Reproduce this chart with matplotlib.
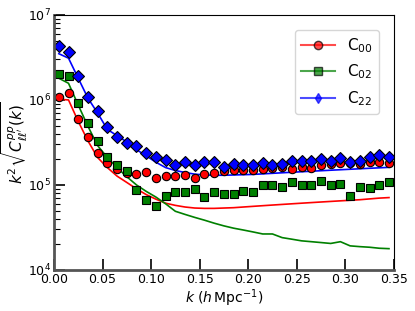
import matplotlib
matplotlib.use("Agg")
import matplotlib.pyplot as plt
from matplotlib.lines import Line2D
import numpy as np

# k bins (h/Mpc)
k = np.arange(0.005, 0.35, 0.01)

# measured points
c00_pts = [1.09e6, 1.2e6, 6.0e5, 3.67e5, 2.4e5, 1.80e5, 1.56e5, 1.40e5, 1.34e5, 1.43e5,
           1.20e5, 1.28e5, 1.28e5, 1.31e5, 1.22e5, 1.34e5, 1.40e5, 1.45e5, 1.48e5, 1.50e5,
           1.50e5, 1.56e5, 1.57e5, 1.61e5, 1.54e5, 1.64e5, 1.60e5, 1.71e5, 1.76e5, 1.80e5,
           1.80e5, 1.76e5, 1.85e5, 1.85e5, 1.83e5]
c02_pts = [2.04e6, 1.91e6, 9.3e5, 5.3e5, 3.3e5, 2.13e5, 1.73e5, 1.47e5, 8.8e4, 6.7e4,
           5.6e4, 7.4e4, 8.2e4, 8.3e4, 8.9e4, 7.3e4, 8.3e4, 7.8e4, 7.8e4, 8.5e4,
           8.2e4, 1.01e5, 1.0e5, 9.4e4, 1.08e5, 1.01e5, 1.0e5, 1.12e5, 1.01e5, 1.03e5,
           7.4e4, 9.5e4, 9.2e4, 1.0e5, 1.08e5]
c22_pts = [4.3e6, 3.7e6, 1.9e6, 1.09e6, 7.5e5, 4.8e5, 3.7e5, 3.15e5, 2.9e5, 2.4e5,
           2.15e5, 1.97e5, 1.73e5, 1.88e5, 1.73e5, 1.85e5, 1.86e5, 1.64e5, 1.77e5, 1.73e5,
           1.73e5, 1.80e5, 1.71e5, 1.76e5, 1.93e5, 1.92e5, 1.90e5, 2.04e5, 1.93e5, 2.06e5,
           1.87e5, 1.90e5, 2.12e5, 2.25e5, 2.15e5]

# model curves
c00_model = [1.02e6, 1.0e6, 5.6e5, 3.3e5, 2.1e5, 1.6e5, 1.27e5, 1.07e5, 9.0e4, 7.7e4,
             6.8e4, 6.1e4, 5.75e4, 5.5e4, 5.35e4, 5.3e4, 5.3e4, 5.35e4, 5.4e4, 5.5e4,
             5.6e4, 5.7e4, 5.8e4, 5.9e4, 6.0e4, 6.1e4, 6.2e4, 6.3e4, 6.4e4, 6.5e4,
             6.6e4, 6.7e4, 6.85e4, 7.0e4, 7.1e4]
c02_model = [1.8e6, 1.57e6, 8.7e5, 4.9e5, 2.9e5, 2.1e5, 1.6e5, 1.25e5, 1.0e5, 8.4e4,
             7.2e4, 6.0e4, 4.9e4, 4.5e4, 4.15e4, 3.85e4, 3.55e4, 3.3e4, 3.1e4, 2.95e4,
             2.8e4, 2.65e4, 2.65e4, 2.4e4, 2.3e4, 2.2e4, 2.15e4, 2.1e4, 2.05e4, 2.15e4,
             1.92e4, 1.88e4, 1.85e4, 1.8e4, 1.78e4]
c22_model = [3.5e6, 3.1e6, 1.8e6, 1.05e6, 7.0e5, 4.5e5, 3.8e5, 3.2e5, 2.6e5, 2.2e5,
             1.85e5, 1.6e5, 1.48e5, 1.4e5, 1.34e5, 1.31e5, 1.3e5, 1.3e5, 1.31e5, 1.32e5,
             1.33e5, 1.35e5, 1.37e5, 1.39e5, 1.41e5, 1.43e5, 1.45e5, 1.47e5, 1.49e5, 1.51e5,
             1.53e5, 1.55e5, 1.57e5, 1.59e5, 1.61e5]

labels = [r"$\mathrm{C}_{00}$", r"$\mathrm{C}_{02}$", r"$\mathrm{C}_{22}$"]

fig = plt.figure(figsize=(4.15, 3.11), dpi=100)
ax = fig.add_axes([0.130, 0.132, 0.819, 0.820])

ax.plot(k, c00_model, color="red", lw=1.2)
ax.plot(k, c02_model, color="green", lw=1.2)
ax.plot(k, c22_model, color="blue", lw=1.2)

ax.plot(k, c00_pts, "o", color="red", mec="black", mew=0.8, ms=6)
ax.plot(k, c02_pts, "s", color="green", mec="black", mew=0.8, ms=6)
ax.plot(k, c22_pts, "D", color="blue", mec="black", mew=0.8, ms=6.5)

ax.set_yscale("log")
ax.set_ylim(1e4, 1e7)
ax.set_xlim(0, 0.35)
ax.set_xticks(np.arange(0, 0.351, 0.05))
ax.set_xticklabels(["%.2f" % v for v in np.arange(0, 0.351, 0.05)])

ax.tick_params(which="both", direction="in", top=False, right=False, labelsize=9)
ax.tick_params(which="major", length=8, width=1.2, pad=2)
ax.tick_params(which="minor", length=4, width=0.8)
for s in ["left", "bottom"]:
    ax.spines[s].set_color("#555555")
    ax.spines[s].set_linewidth(2)

ax.set_xlabel(r"$k\ (h\,\mathrm{Mpc}^{-1})$", fontsize=10, labelpad=1)
ax.set_ylabel(r"$k^2\sqrt{C^{pp}_{\ell\ell'}(k)}$", fontsize=11, labelpad=-1)

handles = [
    Line2D([], [], color="red", alpha=0.7, marker="o", mfc="red", mec="black", ms=6),
    Line2D([], [], color="green", alpha=0.7, marker="s", mfc="green", mec="black", ms=6),
    Line2D([], [], color="blue", alpha=0.7, marker="d", mfc="blue", mec="blue", ms=5),
]
ax.legend(handles, labels, loc="upper right", fontsize=11, handlelength=2.2,
          labelspacing=0.5, borderaxespad=1.0)

fig.savefig("out.png", dpi=100)
